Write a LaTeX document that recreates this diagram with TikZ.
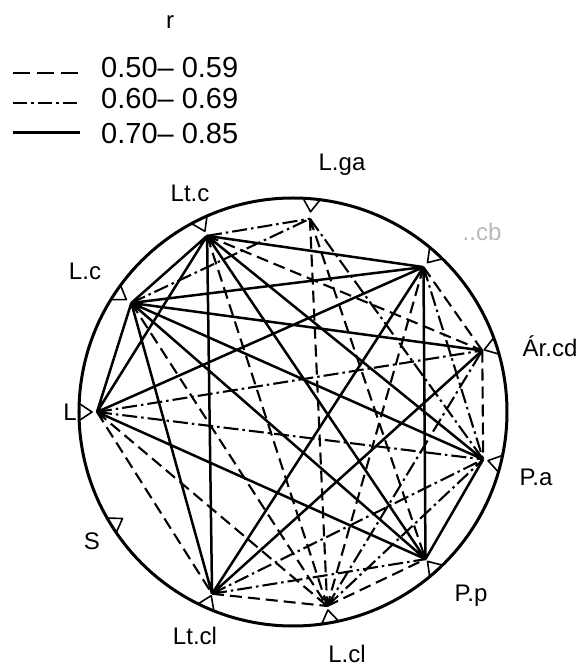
\documentclass[tikz,border=0pt]{standalone}
\usepackage{fontspec}
\setmainfont{Liberation Sans}
\begin{document}
\begin{tikzpicture}[x=1pt,y=1pt,
    weak/.style={line width=2.1pt, dash pattern=on 12pt off 6pt},
    medium/.style={line width=2.1pt, dash pattern=on 15pt off 4pt on 2.5pt off 4pt},
    strong/.style={line width=2.5pt},
    marker/.style={line width=1.6pt, line join=round},
    lab/.style={font=\fontsize{24}{26}\selectfont, inner sep=0pt},
    key/.style={font=\fontsize{29}{32}\selectfont, inner sep=0pt, anchor=west}]
    \useasboundingbox (-293,-257) rectangle (288,412);

    % Key for the ranges of r
    \node[lab] (rlab) at (-123,390) {r};
    \draw[line width=2.8pt, dash pattern=on 17pt off 7pt] (-280,339) -- (-215,339);
    \draw[line width=2.4pt, dash pattern=on 14pt off 4pt on 3pt off 4pt] (-280,309) -- (-215,309);
    \draw[line width=3pt] (-280,279) -- (-213,279);
    \node[key] (k5) at (-192,344) {0.50-- 0.59};
    \node[key] (k6) at (-192,313) {0.60-- 0.69};
    \node[key] (k7) at (-192,278) {0.70-- 0.85};

    % Outer circle
    \draw[line width=3pt] (0,0) circle (214);

    % Points just inside the circle
    \coordinate (Ltc) at (116:196);
    \coordinate (Lga) at (85:194);
    \coordinate (Lcb) at (48:195);
    \coordinate (Arcd) at (18:199);
    \coordinate (Pa) at (-14:196);
    \coordinate (Pp) at (-48:198);
    \coordinate (Lcl) at (-80:197);
    \coordinate (Ltcl) at (-114:199);
    \coordinate (L) at (180:196);
    \coordinate (Lc) at (146:195);

    % Small wedges on the rim
    \draw[marker] (118.3:214) -- (116:201) -- (113.7:214)
        (87.3:214) -- (85:201) -- (82.7:214)
        (50.3:214) -- (48:201) -- (45.7:214)
        (20.3:214) -- (18:201) -- (15.7:214)
        (-11.7:214) -- (-14:201) -- (-16.3:214)
        (-45.7:214) -- (-48:201) -- (-50.3:214)
        (-77.7:214) -- (-80:201) -- (-82.3:214)
        (-111.7:214) -- (-114:201) -- (-116.3:214)
        (182.3:214) -- (180:201) -- (177.7:214)
        (148.3:214) -- (146:201) -- (143.7:214)
        (-145.7:214) -- (-148:201) -- (-150.3:214);

    % r = 0.70 - 0.85
    \draw[strong] (Ltc) -- (Lc) (Ltc) -- (L) (Lc) -- (L)
        (Ltc) -- (Ltcl) (Ltc) -- (Lcb) (Ltc) -- (Pa) (Ltc) -- (Pp)
        (Lc) -- (Lcb) (Lc) -- (Arcd) (Lc) -- (Pa) (Lc) -- (Pp) (Lc) -- (Ltcl)
        (L) -- (Lcb) (L) -- (Pp)
        (Lcb) -- (Pp) (Lcb) -- (Ltcl) (Arcd) -- (Ltcl) (Pa) -- (Pp);

    % r = 0.60 - 0.69
    \draw[medium] (Ltc) -- (Lga) (Lc) -- (Lga) (L) -- (Pa) (L) -- (Arcd)
        (Ltcl) -- (Pp) (Ltcl) -- (Pa) (Lcl) -- (Arcd) (Lcb) -- (Pa)
        (Lga) -- (Pa) (Lcl) -- (Pa);

    % r = 0.50 - 0.59
    \draw[weak] (L) -- (Ltcl) (L) -- (Lcl) (Ltcl) -- (Lcl) (Lcl) -- (Pp)
        (Arcd) -- (Pa) (Lcb) -- (Arcd) (Lga) -- (Lcl) (Lga) -- (Pp)
        (Ltc) -- (Arcd) (Ltc) -- (Lcl) (Lcb) -- (Lcl) (Lc) -- (Lcl);

    % Names of the points
    \node[lab] (tLtc) at (-103,219) {Lt.c};
    \node[lab] (tLga) at (49,247) {L.ga};
    \node[lab, text=gray!55] (tLcb) at (189,180) {..cb};
    \node[lab] (tArcd) at (257,66) {Ár.cd};
    \node[lab] (tPa) at (243,-65) {P.a};
    \node[lab] (tPp) at (178,-184) {P.p};
    \node[lab] (tLcl) at (54,-242) {L.cl};
    \node[lab] (tLtcl) at (-98,-224) {Lt.cl};
    \node[lab] (tS) at (-201,-129) {S};
    \node[lab] (tL) at (-223,0) {L};
    \node[lab] (tLc) at (-208,141) {L.c};
\end{tikzpicture}
\end{document}
